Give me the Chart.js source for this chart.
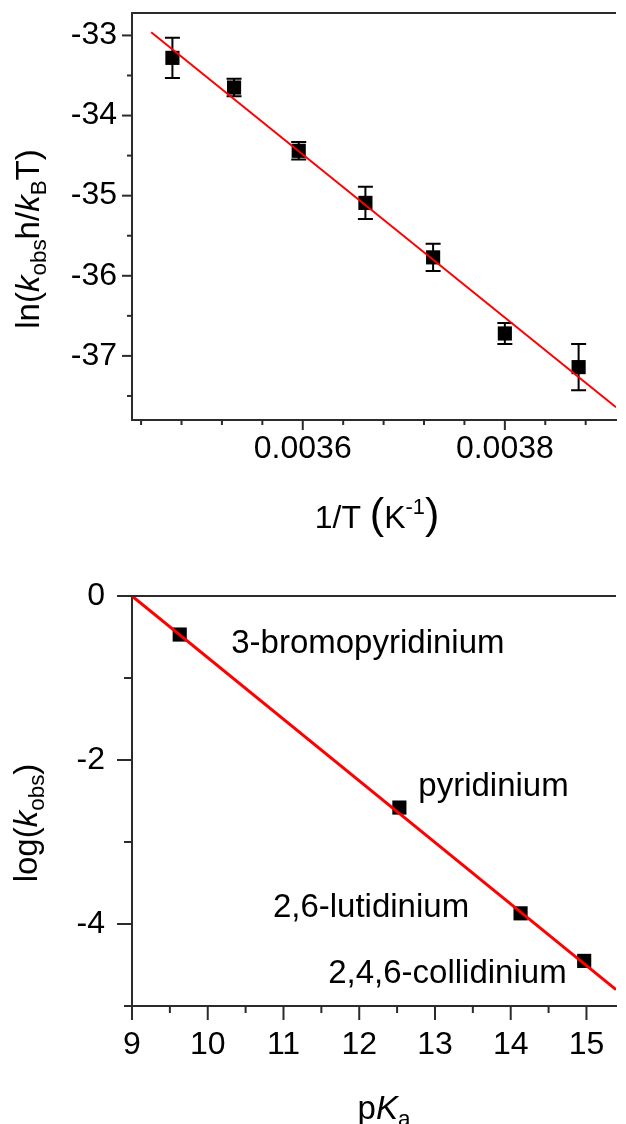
<!DOCTYPE html>
<html>
<head>
<meta charset="utf-8">
<script src="https://cdn.jsdelivr.net/npm/chart.js@4.4.0/dist/chart.umd.min.js"></script>
<style>
    html, body { margin: 0; padding: 0; background: #fff; overflow: hidden; }
    #caixaTemperatura { position: absolute; left: 0; top: 0; }
    #caixaPka { position: absolute; left: 0; top: 560px; }
</style>
</head>
<body>
<div id="caixaTemperatura"><canvas id="graficoTemperatura" width="626" height="560"></canvas></div>
<div id="caixaPka"><canvas id="graficoPka" width="626" height="564"></canvas></div>
<script>
// grafico de cima: Eyring
const inversoT = [0.003471, 0.003532, 0.003596, 0.003662, 0.003729, 0.0038, 0.003873]
const lnK = [-33.28, -33.65, -34.44, -35.09, -35.77, -36.72, -37.14]
const erroLnK = [0.25, 0.11, 0.11, 0.2, 0.17, 0.13, 0.29]
const ajusteInversoT = [0.00345, 0.00391]
const ajusteLnK = [-32.96, -37.64]
const ticksInversoT = [0.00344, 0.00348, 0.00352, 0.00356, 0.0036, 0.00364, 0.00368, 0.00372, 0.00376, 0.0038, 0.00384, 0.00388]
const rotulosInversoT = [0.0036, 0.0038]
const ticksLnK = [-37.5, -37, -36.5, -36, -35.5, -35, -34.5, -34, -33.5, -33]
const rotulosLnK = [-37, -36, -35, -34, -33]

// grafico de baixo: Bronsted
const pKa = [9.63, 12.53, 14.13, 14.97]
const logK = [-0.47, -2.58, -3.87, -4.45]
const nomes = ['3-bromopyridinium', 'pyridinium', '2,6-lutidinium', '2,4,6-collidinium']
const nomesX = [10.31, 12.78, 10.86, 11.59]
const nomesY = [-0.58, -2.33, -3.80, -4.61]
const ajustePKa = [9, 15.39]
const ajusteLogK = [0, -4.8]
const ticksPKa = [9, 9.5, 10, 10.5, 11, 11.5, 12, 12.5, 13, 13.5, 14, 14.5, 15]
const rotulosPKa = [9, 10, 11, 12, 13, 14, 15]
const ticksLogK = [-5, -4, -3, -2, -1, 0]
const rotulosLogK = [-4, -2, 0]

const FAMILIA = '"Liberation Sans", Arial, sans-serif'
const COR_EIXO = '#2b2b2b'
const COR_TEXTO = '#000'

function pontos(xs, ys) {
    return xs.map((x, i) => ({ x: x, y: ys[i] }))
}

function escala(min, max, rotulos, formato, padding, tamTick, ajusta) {
    return {
        type: 'linear',
        min: min,
        max: max,
        afterBuildTicks: (s) => { s.ticks = rotulos.map(v => ({ value: v })) },
        afterFit: ajusta,
        grid: { display: false, drawTicks: true, tickLength: tamTick },
        border: { display: true, color: COR_EIXO, width: 2 },
        ticks: {
            autoSkip: false,
            maxRotation: 0,
            padding: padding,
            color: COR_TEXTO,
            font: { family: FAMILIA, size: 32 },
            callback: formato
        }
    }
}

function textoRico(ctx, partes, x, y, tam, girar) {
    const fonte = (tipo) => {
        if (tipo === 'i') return 'italic ' + tam + 'px ' + FAMILIA
        if (tipo === 'sub' || tipo === 'sup') return (tam * 0.68) + 'px ' + FAMILIA
        if (tipo === 'big') return (tam * 1.35) + 'px ' + FAMILIA
        return tam + 'px ' + FAMILIA
    }
    let largura = 0
    partes.forEach(([t, tipo]) => {
        ctx.font = fonte(tipo)
        largura += ctx.measureText(t).width
    })
    ctx.save()
    ctx.translate(x, y)
    if (girar) ctx.rotate(-Math.PI / 2)
    ctx.fillStyle = COR_TEXTO
    ctx.textAlign = 'left'
    ctx.textBaseline = 'alphabetic'
    let px = -largura / 2
    partes.forEach(([t, tipo]) => {
        ctx.font = fonte(tipo)
        let dy = 0
        if (tipo === 'sub') dy = tam * 0.22
        if (tipo === 'sup') dy = -tam * 0.45
        ctx.fillText(t, px, dy)
        px += ctx.measureText(t).width
    })
    ctx.restore()
}

function marcas(ctx, esc, valores, principais, longo, curto, horizontal) {
    ctx.save()
    ctx.strokeStyle = COR_EIXO
    ctx.lineWidth = 2
    valores.forEach(v => {
        const p = esc.getPixelForValue(v)
        const L = principais.includes(v) ? longo : curto
        ctx.beginPath()
        if (horizontal) {
            ctx.moveTo(p, esc.top)
            ctx.lineTo(p, esc.top + L)
        } else {
            ctx.moveTo(esc.right, p)
            ctx.lineTo(esc.right - L, p)
        }
        ctx.stroke()
    })
    ctx.restore()
}

function bordaDeCima(ctx, area) {
    ctx.save()
    ctx.strokeStyle = COR_EIXO
    ctx.lineWidth = 2
    ctx.beginPath()
    ctx.moveTo(area.left, area.top)
    ctx.lineTo(area.right, area.top)
    ctx.stroke()
    ctx.restore()
}

const extrasTemperatura = {
    id: 'extrasTemperatura',
    beforeDatasetsDraw(chart) {
        const ctx = chart.ctx
        const xs = chart.scales.x
        const ys = chart.scales.y
        ctx.save()
        ctx.strokeStyle = '#000'
        ctx.lineWidth = 2
        inversoT.forEach((v, i) => {
            const x = xs.getPixelForValue(v)
            const y1 = ys.getPixelForValue(lnK[i] + erroLnK[i])
            const y2 = ys.getPixelForValue(lnK[i] - erroLnK[i])
            ctx.beginPath()
            ctx.moveTo(x, y1)
            ctx.lineTo(x, y2)
            ctx.moveTo(x - 7.5, y1)
            ctx.lineTo(x + 7.5, y1)
            ctx.moveTo(x - 7.5, y2)
            ctx.lineTo(x + 7.5, y2)
            ctx.stroke()
        })
        ctx.restore()
    },
    afterDraw(chart) {
        const ctx = chart.ctx
        bordaDeCima(ctx, chart.chartArea)
        marcas(ctx, chart.scales.x, ticksInversoT, rotulosInversoT, 10, 5, true)
        marcas(ctx, chart.scales.y, ticksLnK, rotulosLnK, 10, 5, false)
        textoRico(ctx, [['ln(', 'n'], ['k', 'i'], ['obs', 'sub'], ['h/', 'n'], ['k', 'i'], ['B', 'sub'], ['T)', 'n']], 39, 239, 33, true)
        textoRico(ctx, [['1/T ', 'n'], ['(', 'big'], ['K', 'n'], ['-1', 'sup'], [')', 'big']], 377, 528, 32, false)
    }
}

const extrasPka = {
    id: 'extrasPka',
    afterDraw(chart) {
        const ctx = chart.ctx
        const xs = chart.scales.x
        const ys = chart.scales.y
        bordaDeCima(ctx, chart.chartArea)
        marcas(ctx, xs, ticksPKa, rotulosPKa, 14, 7, true)
        marcas(ctx, ys, ticksLogK, rotulosLogK, 15, 8, false)
        ctx.save()
        ctx.fillStyle = COR_TEXTO
        ctx.font = '33px ' + FAMILIA
        ctx.textAlign = 'left'
        ctx.textBaseline = 'middle'
        nomes.forEach((n, i) => {
            ctx.fillText(n, xs.getPixelForValue(nomesX[i]), ys.getPixelForValue(nomesY[i]))
        })
        ctx.restore()
        textoRico(ctx, [['log(', 'n'], ['k', 'i'], ['obs', 'sub'], [')', 'n']], 37, 263, 33, true)
        textoRico(ctx, [['p', 'n'], ['K', 'i'], ['a', 'sub']], 384, 559, 33, false)
    }
}

const graficoTemperatura = new Chart(document.getElementById('graficoTemperatura'), {
    type: 'scatter',
    data: {
        datasets: [{
            data: pontos(inversoT, lnK),
            pointStyle: 'rect',
            pointRadius: 10,
            backgroundColor: '#000',
            borderWidth: 0,
            order: 1
        }, {
            data: pontos(ajusteInversoT, ajusteLnK),
            showLine: true,
            borderColor: '#ff0000',
            borderWidth: 2,
            pointRadius: 0,
            order: 0
        }]
    },
    options: {
        responsive: false,
        animation: false,
        events: [],
        layout: { padding: { top: 13, left: 0, right: 0, bottom: 0 } },
        plugins: { legend: { display: false }, tooltip: { enabled: false } },
        scales: {
            x: escala(0.003431, 0.00391, rotulosInversoT, (v) => v.toFixed(4), 0, 10,
                (s) => { s.height = 140; s.paddingLeft = 0; s.paddingRight = 0 }),
            y: escala(-37.8, -32.72, rotulosLnK, (v) => String(v), 5, 10,
                (s) => { s.width = 132; s.paddingTop = 0; s.paddingBottom = 0 })
        }
    },
    plugins: [extrasTemperatura]
})

const graficoPka = new Chart(document.getElementById('graficoPka'), {
    type: 'scatter',
    data: {
        datasets: [{
            data: pontos(pKa, logK),
            pointStyle: 'rect',
            pointRadius: 10,
            backgroundColor: '#000',
            borderWidth: 0,
            order: 1
        }, {
            data: pontos(ajustePKa, ajusteLogK),
            showLine: true,
            borderColor: '#ff0000',
            borderWidth: 3,
            pointRadius: 0,
            order: 0
        }]
    },
    options: {
        responsive: false,
        animation: false,
        events: [],
        layout: { padding: { top: 36, left: 0, right: 0, bottom: 0 } },
        plugins: { legend: { display: false }, tooltip: { enabled: false } },
        scales: {
            x: escala(9, 15.39, rotulosPKa, (v) => String(v), 6, 14,
                (s) => { s.height = 118; s.paddingLeft = 0; s.paddingRight = 0 }),
            y: escala(-5, 0, rotulosLogK, (v) => String(v), 12, 15,
                (s) => { s.width = 132; s.paddingTop = 0; s.paddingBottom = 0 })
        }
    },
    plugins: [extrasPka]
})
</script>
</body>
</html>
